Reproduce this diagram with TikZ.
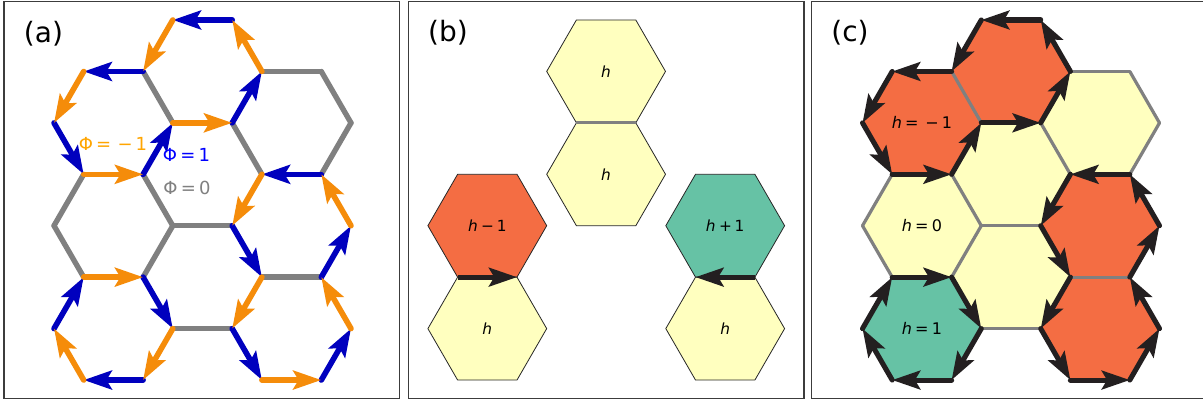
\documentclass[tikz,border=0pt]{standalone}
\usepackage{fontspec}
\setmainfont{DejaVu Sans}
\usetikzlibrary{arrows.meta,calc}

\definecolor{phiblue}{RGB}{0,0,190}
\definecolor{phiorange}{RGB}{245,140,10}
\definecolor{lblorange}{RGB}{255,165,0}
\definecolor{lblblue}{RGB}{0,0,255}
\definecolor{edgegray}{RGB}{128,128,128}
\definecolor{hred}{HTML}{F46D43}
\definecolor{hgreen}{HTML}{66C2A5}
\definecolor{hyellow}{HTML}{FFFFBF}
\definecolor{arrowblack}{HTML}{231F20}
\definecolor{framegray}{RGB}{60,60,60}

% hexagon corner points (pixel units, y downwards)
\newcommand\mkhexpts[3]{%
  \coordinate (#1) at ({#2},{#3});
  \coordinate (#1-E) at ({#2+59.4},{#3});
  \coordinate (#1-NE) at ({#2+29.7},{#3-51.43});
  \coordinate (#1-NW) at ({#2-29.7},{#3-51.43});
  \coordinate (#1-W) at ({#2-59.4},{#3});
  \coordinate (#1-SW) at ({#2-29.7},{#3+51.43});
  \coordinate (#1-SE) at ({#2+29.7},{#3+51.43});
}
\newcommand\mkhexpath[2]{\path[#2] (#1-E) -- (#1-NE) -- (#1-NW) -- (#1-W) -- (#1-SW) -- (#1-SE) -- cycle;}
\newcommand\mklattice[2]{%
  \mkhexpts{#1h1}{202.5+#2}{71.4}%
  \mkhexpts{#1h2}{113.4+#2}{122.9}%
  \mkhexpts{#1h3}{291.6+#2}{122.9}%
  \mkhexpts{#1h4}{113.4+#2}{225.7}%
  \mkhexpts{#1h5}{202.5+#2}{174.3}%
  \mkhexpts{#1h6}{291.6+#2}{225.7}%
  \mkhexpts{#1h7}{202.5+#2}{277.1}%
  \mkhexpts{#1h8}{113.4+#2}{328.6}%
  \mkhexpts{#1h9}{291.6+#2}{328.6}%
}
\newcommand\mkedges[1]{%
  % edges with Phi = 0
  \draw[#1zero] (#1h1-W) -- (#1h1-SW);
  \draw[#1zero] (#1h3-NW) -- (#1h3-NE);
  \draw[#1zero] (#1h3-NE) -- (#1h3-E);
  \draw[#1zero] (#1h3-E) -- (#1h3-SE);
  \draw[#1zero] (#1h3-SW) -- (#1h3-W);
  \draw[#1zero] (#1h5-W) -- (#1h5-SW);
  \draw[#1zero] (#1h5-SW) -- (#1h5-SE);
  \draw[#1zero] (#1h4-E) -- (#1h4-SE);
  \draw[#1zero] (#1h4-SW) -- (#1h4-W);
  \draw[#1zero] (#1h4-W) -- (#1h4-NW);
  \draw[#1zero] (#1h6-SE) -- (#1h6-SW);
  \draw[#1zero] (#1h7-SW) -- (#1h7-SE);
  % edges with Phi = 1
  \draw[#1pos] (#1h1-NE) -- (#1h1-NW);
  \draw[#1pos] (#1h1-SE) -- (#1h1-E);
  \draw[#1pos] (#1h2-NE) -- (#1h2-NW);
  \draw[#1pos] (#1h2-W) -- (#1h2-SW);
  \draw[#1pos] (#1h2-SE) -- (#1h2-E);
  \draw[#1pos] (#1h3-SE) -- (#1h3-SW);
  \draw[#1pos] (#1h6-SE) -- (#1h6-E);
  \draw[#1pos] (#1h6-W) -- (#1h6-SW);
  \draw[#1pos] (#1h7-W) -- (#1h7-SW);
  \draw[#1pos] (#1h8-SE) -- (#1h8-SW);
  \draw[#1pos] (#1h8-W) -- (#1h8-NW);
  \draw[#1pos] (#1h9-W) -- (#1h9-SW);
  \draw[#1pos] (#1h9-SE) -- (#1h9-E);
  % edges with Phi = -1
  \draw[#1neg] (#1h1-NW) -- (#1h1-W);
  \draw[#1neg] (#1h1-E) -- (#1h1-NE);
  \draw[#1neg] (#1h1-SW) -- (#1h1-SE);
  \draw[#1neg] (#1h2-NW) -- (#1h2-W);
  \draw[#1neg] (#1h2-SW) -- (#1h2-SE);
  \draw[#1neg] (#1h5-E) -- (#1h5-SE);
  \draw[#1neg] (#1h4-SW) -- (#1h4-SE);
  \draw[#1neg] (#1h6-E) -- (#1h6-NE);
  \draw[#1neg] (#1h7-E) -- (#1h7-SE);
  \draw[#1neg] (#1h8-E) -- (#1h8-SE);
  \draw[#1neg] (#1h8-SW) -- (#1h8-W);
  \draw[#1neg] (#1h9-SW) -- (#1h9-SE);
  \draw[#1neg] (#1h9-E) -- (#1h9-NE);
}

\begin{document}
\begin{tikzpicture}[x=0.75pt,y=-0.75pt,
  tipstyle/.style={-{Stealth[length=21pt,width=14pt,inset=4pt]}},
  azero/.style={draw=edgegray,line width=4pt,line cap=round},
  apos/.style={draw=phiblue,fill=phiblue,line width=4.2pt,line cap=round,tipstyle},
  aneg/.style={draw=phiorange,fill=phiorange,line width=4.2pt,line cap=round,tipstyle},
  czero/.style={draw=edgegray,line width=2.4pt,line cap=round},
  cpos/.style={draw=arrowblack,line width=3.8pt,line cap=round,tipstyle},
  cneg/.style={draw=arrowblack,line width=3.8pt,line cap=round,tipstyle},
  bhex/.style={draw=black!85,line width=0.6pt,line join=miter},
  bmid/.style={draw=edgegray,line width=2.4pt},
  barr/.style={draw=arrowblack,line width=3.8pt,tipstyle},
  frame/.style={draw=framegray,line width=0.9pt},
  plabel/.style={font=\fontsize{21}{25}\selectfont,inner sep=0pt},
  philbl/.style={font=\fontsize{13.5}{16}\selectfont,inner sep=0pt},
  hlbl/.style={font=\fontsize{11.5}{14}\selectfont,inner sep=0pt},
  clbl/.style={font=\fontsize{12}{14}\selectfont,inner sep=0pt}]

\useasboundingbox (0,0) rectangle (1203,401);
\fill[white] (0,0) rectangle (1203,401);

% panel frames
\draw[frame] (4,1.7) rectangle (399.3,398.3);
\draw[frame] (408.3,1.7) rectangle (804,398.3);
\draw[frame] (811.7,1.7) rectangle (1215,398.3);

% ---------------- panel (a)
\mklattice{a}{0}
\mkedges{a}
\node[plabel] (la) at (43.5,34) {(a)};
\node[philbl,text=lblorange] (phim) at (113,144) {Φ\hspace{0.17em}=\hspace{0.36em}−\hspace{0.17em}1};
\node[philbl,text=lblblue] (phip) at (186.5,154.5) {Φ\hspace{0.18em}=\hspace{0.18em}1};
\node[philbl,text=edgegray] (phiz) at (187,188) {Φ\hspace{0.18em}=\hspace{0.18em}0};

% ---------------- panel (b)
\mkhexpts{bh1}{606.1}{71.4}
\mkhexpts{bh2}{606.1}{174.3}
\mkhexpts{bh3}{487.3}{225.7}
\mkhexpts{bh4}{487.3}{328.6}
\mkhexpts{bh5}{725.2}{225.7}
\mkhexpts{bh6}{725.2}{328.6}
\mkhexpath{bh1}{bhex,fill=hyellow}
\mkhexpath{bh2}{bhex,fill=hyellow}
\mkhexpath{bh3}{bhex,fill=hred}
\mkhexpath{bh4}{bhex,fill=hyellow}
\mkhexpath{bh5}{bhex,fill=hgreen}
\mkhexpath{bh6}{bhex,fill=hyellow}
\draw[bmid] (bh1-SW) -- (bh1-SE);
\draw[barr] (bh3-SW) -- (bh3-SE);
\draw[barr] (bh5-SE) -- (bh5-SW);
\node[plabel] (lb) at (448,33) {(b)};
\node[hlbl] (tb1) at (bh1) {\textit{h}};
\node[hlbl] (tb2) at (bh2) {\textit{h}};
\node[hlbl] (tb3) at (bh3) {\textit{h}\hspace{0.22em}−\hspace{0.18em}1};
\node[hlbl] (tb4) at (bh4) {\textit{h}};
\node[hlbl] (tb5) at (bh5) {\textit{h}\hspace{0.22em}+\hspace{0.18em}1};
\node[hlbl] (tb6) at (bh6) {\textit{h}};

% ---------------- panel (c)
\mklattice{c}{808.5}
\mkhexpath{ch1}{fill=hred}
\mkhexpath{ch2}{fill=hred}
\mkhexpath{ch3}{fill=hyellow}
\mkhexpath{ch4}{fill=hyellow}
\mkhexpath{ch5}{fill=hyellow}
\mkhexpath{ch6}{fill=hred}
\mkhexpath{ch7}{fill=hyellow}
\mkhexpath{ch8}{fill=hgreen}
\mkhexpath{ch9}{fill=hred}
\mkedges{c}
\node[plabel] (lc) at (850,33) {(c)};
\node[clbl] (tc2) at (ch2) {\textit{h}\hspace{0.2em}=\hspace{0.42em}−\hspace{0.2em}1};
\node[clbl] (tc4) at (ch4) {\textit{h}\hspace{0.2em}=\hspace{0.2em}0};
\node[clbl] (tc8) at (ch8) {\textit{h}\hspace{0.2em}=\hspace{0.2em}1};
\end{tikzpicture}
\end{document}
